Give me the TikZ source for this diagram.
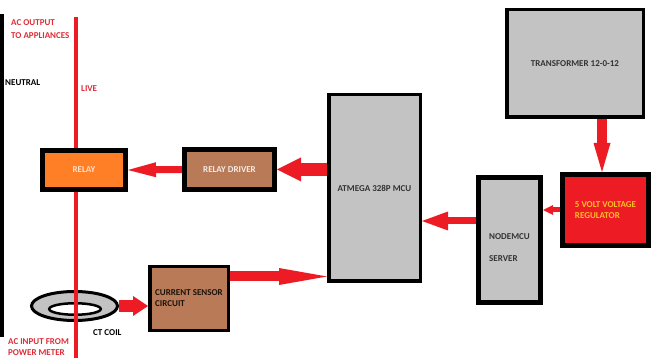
\documentclass[tikz,border=0pt]{standalone}
\usepackage{fontspec}
\setmainfont{Carlito}
\usetikzlibrary{arrows.meta}
\usetikzlibrary{shapes.geometric}
\usetikzlibrary{calc}
\definecolor{lred}{RGB}{237,28,36}
\definecolor{lgrey}{RGB}{195,195,195}
\definecolor{lbrown}{RGB}{185,122,87}
\definecolor{lorange}{RGB}{255,127,39}
\definecolor{lyellow}{RGB}{255,190,40}
\definecolor{txtred}{RGB}{222,45,55}

\tikzset{
  blockbox/.style={draw=black, line width=#1pt, inner sep=0pt,
    font=\fontsize{9}{11}\selectfont\bfseries},
  flow/.style n args={3}{draw=lred, line width=#1pt,
    -{Triangle[length=#2pt, width=#3pt, line width=0pt]}},
  lbl/.style={font=\fontsize{9}{13}\selectfont\bfseries, inner sep=0pt, align=left},
}

\begin{document}
\begin{tikzpicture}[x=1pt, y=-1pt]
\useasboundingbox (0,0) rectangle (651,358);

%---------------------------------------
% CT coil (under the live wire)
%---------------------------------------
\node[ellipse, draw, line width=3pt, fill=lgrey, inner sep=0pt,
      minimum width=86pt, minimum height=29pt] (ct) at (74.5,306) {};
\node[ellipse, draw, line width=2.5pt, fill=white, inner sep=0pt,
      minimum width=51.5pt, minimum height=11.5pt] (cthole) at (75,309) {};

%---------------------------------------
% Mains wires
%---------------------------------------
\draw[line width=4pt] (2,14) -- (2,337);          % neutral
\draw[lred, line width=4pt] (76,17) -- (76,358);  % live

%---------------------------------------
% Blocks
%---------------------------------------
\node[blockbox=5, fill=lorange, text=white!75!lorange,
      minimum width=83pt, minimum height=39pt] (relay) at (84,170) {RELAY};
\node[blockbox=5, fill=lbrown, text=white!85!lbrown,
      minimum width=90pt, minimum height=40pt] (drv) at (229.5,169.5) {RELAY DRIVER};
\node[blockbox=3.5, fill=lgrey, text=black!80,
      minimum width=91.5pt, minimum height=186.5pt] (mcu) at (374.5,188) {ATMEGA 328P MCU};
\node[blockbox=3.5, fill=lgrey, text=black!80,
      minimum width=136.5pt, minimum height=107.5pt] (trans) at (575,63.5) {TRANSFORMER 12-0-12};
\node[blockbox=5, fill=lgrey,
      minimum width=62pt, minimum height=125pt] (nodemcu) at (509.5,240) {};
\node[blockbox=5, fill=lred, text=lyellow, align=left,
      minimum width=86pt, minimum height=71pt] (reg) at (605.5,210) {5 VOLT VOLTAGE\\REGULATOR};
\node[blockbox=3.5, fill=lbrown, text=black!85!lbrown, align=left,
      minimum width=78.5pt, minimum height=63.5pt] (sensor) at (189,298.5) {CURRENT SENSOR\\CIRCUIT};

% ---- Labels ----
\node[lbl, text=txtred, anchor=west] (acout) at (11,29) {AC OUTPUT\\TO APPLIANCES};
\node[lbl, anchor=west] (neutral) at (5,83) {NEUTRAL};
\node[lbl, text=txtred, anchor=west] (live) at (81,89) {LIVE};
\node[lbl, anchor=west] (ctlbl) at (93,333) {CT COIL};
\node[lbl, text=txtred, anchor=west] (acin) at (8,347.5) {AC INPUT FROM\\[-2pt]POWER METER};
\node[lbl, text=black!80, anchor=west] (nodelbl) at (489,248) {NODEMCU\\[9pt]SERVER};

%---------------------------------------
% Signal arrows
%---------------------------------------
\coordinate (sensout) at ($(sensor.east)+(0,-22)$);
\coordinate (nodeout) at ($(nodemcu.west)+(0,-19)$);
\coordinate (regin) at ($(reg.north)+(-3.5,0)$);

\draw[flow={7}{28}{15}] (drv.west) -- (relay.east);
\draw[flow={13}{24}{24}] (mcu.west |- drv.east) -- (drv.east);
\draw[flow={10}{48}{17}] (sensout) -- (sensout -| mcu.west);
\draw[flow={7}{26}{19}] (nodeout) -- (nodeout -| mcu.east);
\draw[flow={5}{10}{10}] (reg.west) -- (reg.west -| nodemcu.east);
\draw[flow={10}{29}{17}] (regin |- trans.south) -- (regin);
\draw[flow={12}{15}{20}] (ct.east) -- (ct.east -| sensor.west);

\end{tikzpicture}
\end{document}
